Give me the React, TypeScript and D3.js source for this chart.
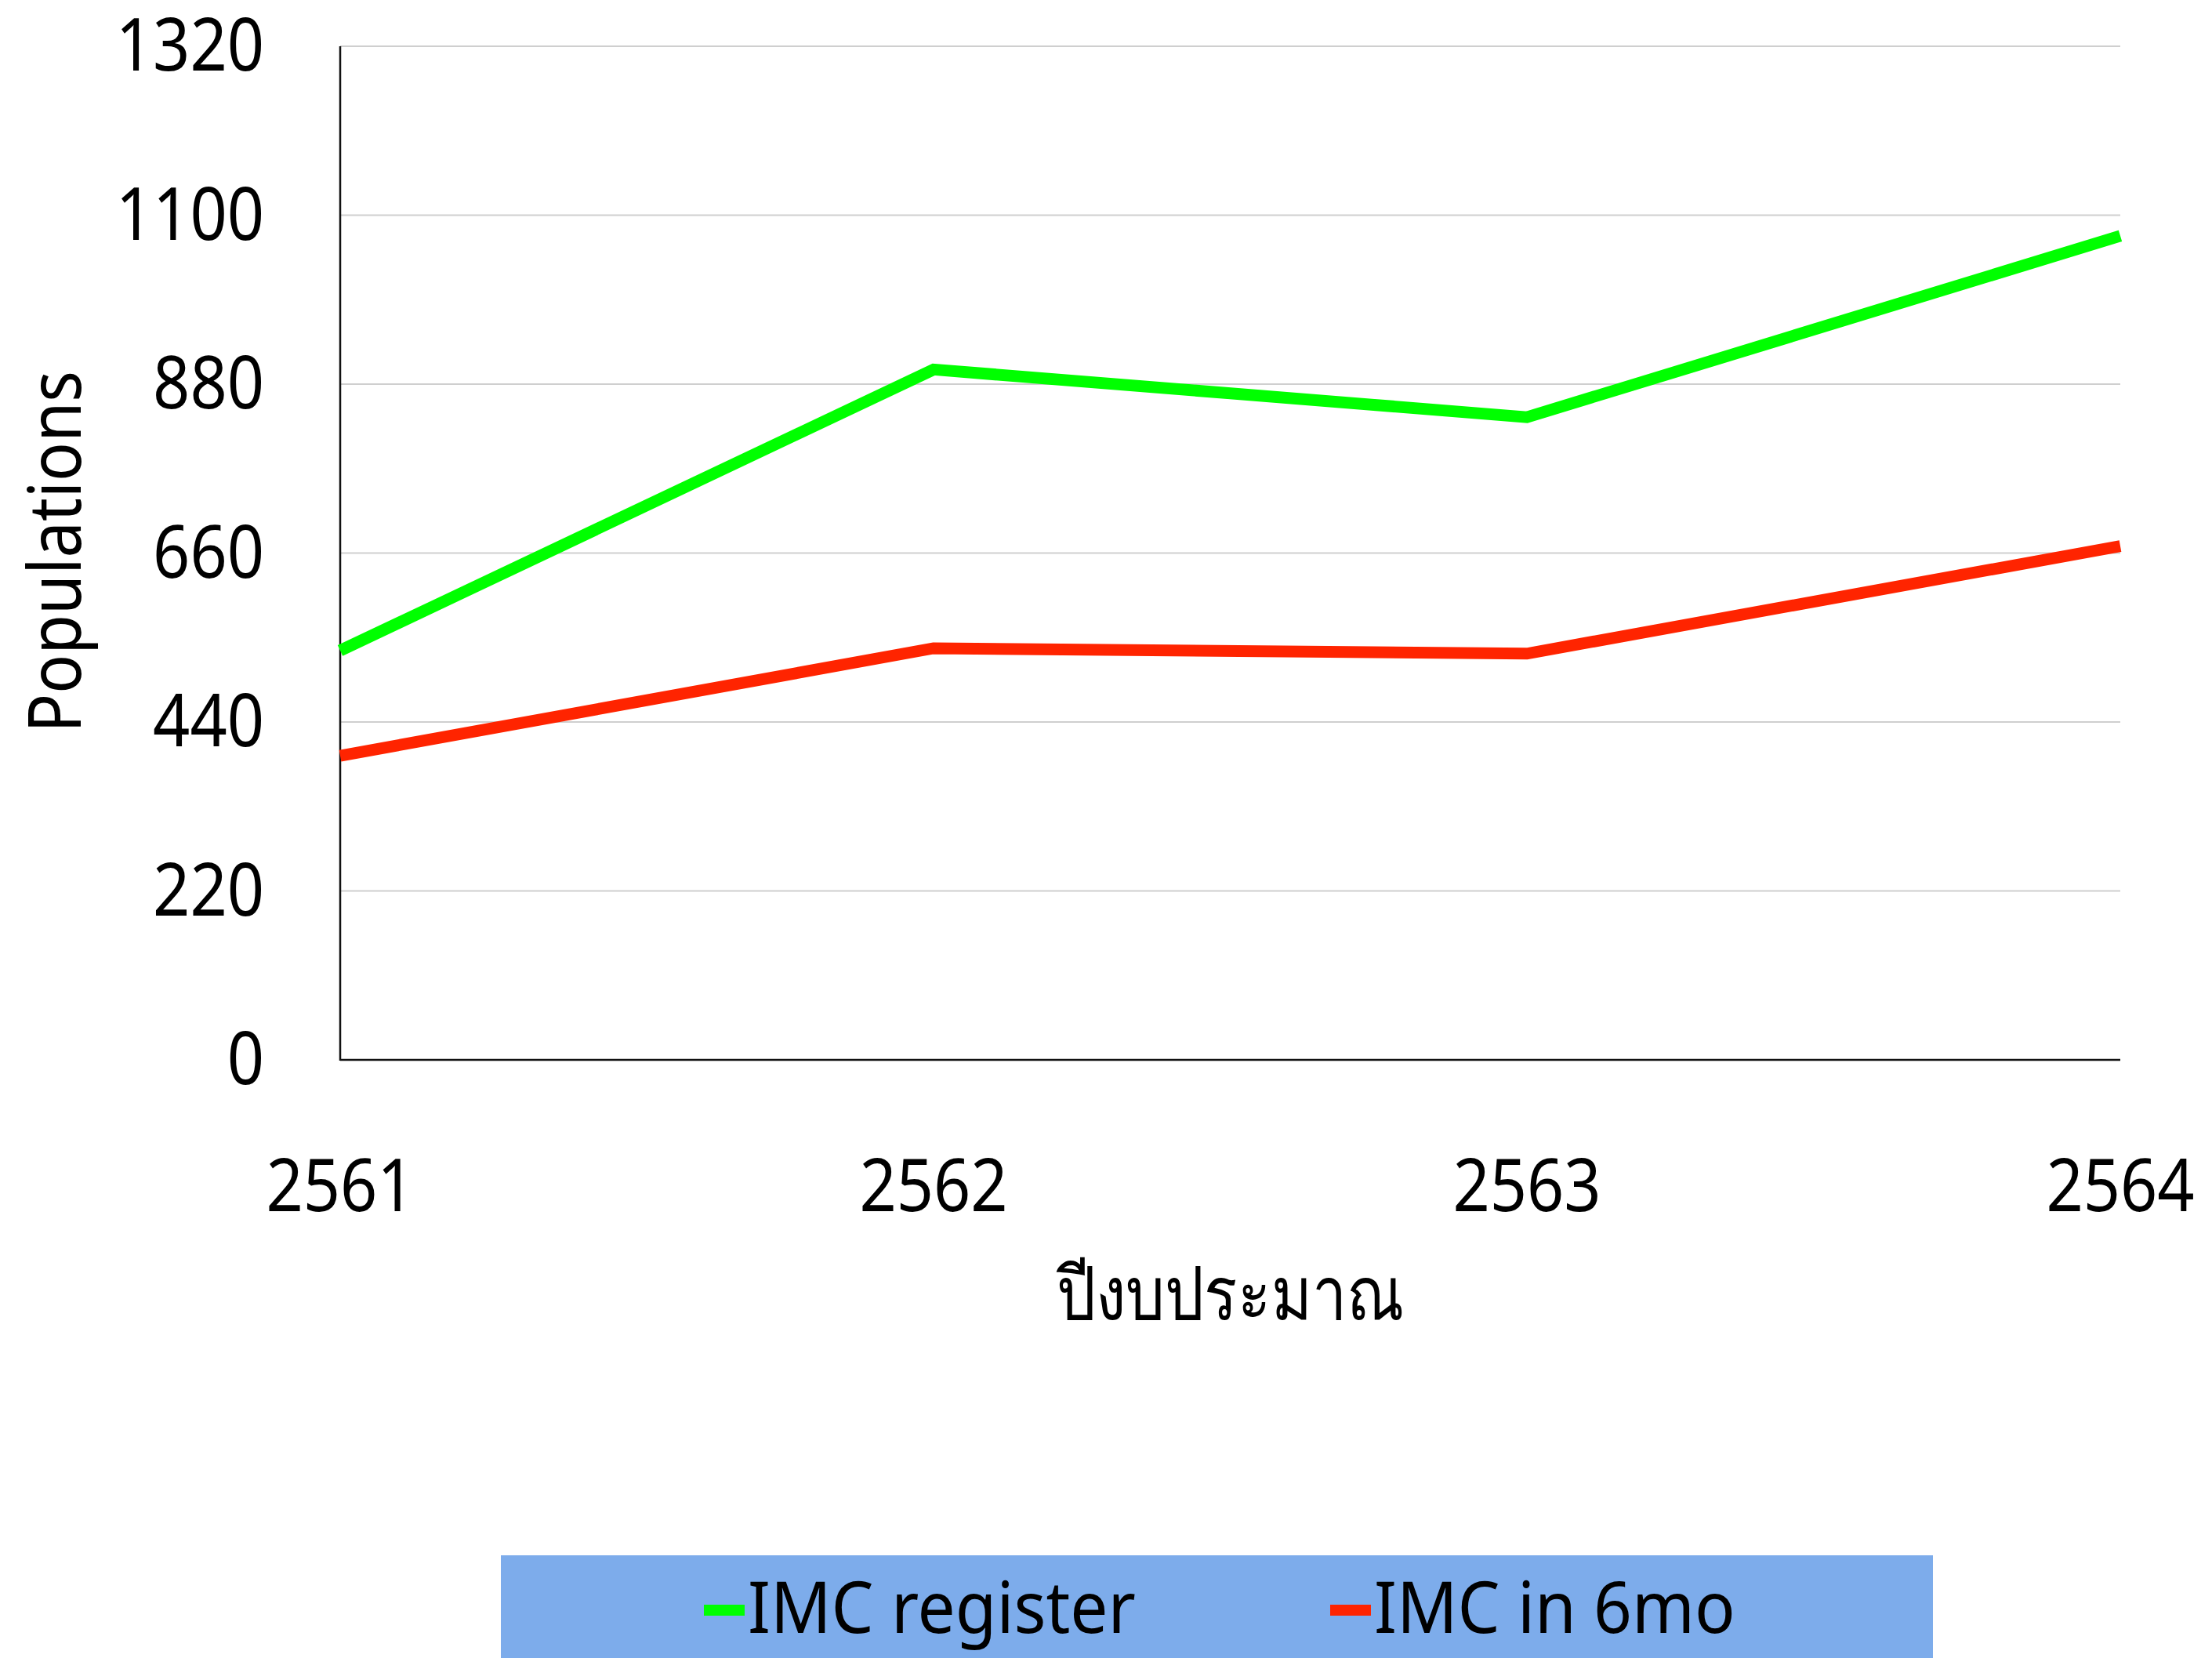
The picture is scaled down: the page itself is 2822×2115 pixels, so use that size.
import React from "react";
import * as d3 from "d3";

const years = ["2561", "2562", "2563", "2564"];
const imcRegister = [533, 899, 837, 1073];
const imcIn6mo = [396, 536, 529, 669];
const yTicks = [0, 220, 440, 660, 880, 1100, 1320];
const seriesNames = ["IMC register", "IMC in 6mo"];
const seriesColors = ["#00FF00", "#FF2400"];
const xTitle = "ปีงบประมาณ";
const yTitle = "Populations";

const W = 2822;
const H = 2115;
const FONT = "'Noto Sans', 'Open Sans', sans-serif";
const SX = 0.88;

export default function App() {
  const left = 434, right = 2705, top = 59, bottom = 1352;
  const x = d3.scalePoint<string>().domain(years).range([left, right]);
  const y = d3.scaleLinear().domain([0, 1320]).range([bottom, top]);
  const line = d3
    .line<number>()
    .x((_, i) => x(years[i]) as number)
    .y((d) => y(d));
  const series = [imcRegister, imcIn6mo];

  return (
    <svg
      width={W}
      height={H}
      style={{ position: "absolute", left: 0, top: 0, background: "#fff" }}
      fontFamily={FONT}
    >
      <rect x={0} y={0} width={W} height={H} fill="#fff" />
      {yTicks.filter((t) => t > 0).map((t) => (
        <line key={"g" + t} x1={left} x2={right} y1={y(t)} y2={y(t)} stroke="#CFCFCF" strokeWidth={2} />
      ))}
      {yTicks.map((t) => (
        <text
          key={"yt" + t}
          transform={`translate(${337},${y(t) + 31}) scale(${SX},1)`}
          textAnchor="end"
          fontSize={94}
          fill="#000"
        >
          {t}
        </text>
      ))}
      <line x1={left} x2={left} y1={top} y2={bottom + 1} stroke="#111" strokeWidth={2.5} />
      <line x1={left} x2={right} y1={bottom} y2={bottom} stroke="#111" strokeWidth={2.5} />
      {series.map((s, i) => (
        <path
          key={"s" + i}
          d={line(s) || ""}
          fill="none"
          stroke={seriesColors[i]}
          strokeWidth={15}
          strokeLinejoin="miter"
          strokeLinecap="butt"
        />
      ))}
      {years.map((yr) => (
        <text
          key={"xt" + yr}
          transform={`translate(${x(yr)},${1545}) scale(${SX},1)`}
          textAnchor="middle"
          fontSize={94}
          fill="#000"
        >
          {yr}
        </text>
      ))}
      <text
        transform={`translate(${1570},${1683}) scale(0.84,1)`}
        textAnchor="middle"
        fontSize={94}
        fill="#000"
      >
        {xTitle}
      </text>
      <text
        transform={`translate(${103},${704}) rotate(-90) scale(${SX},1)`}
        textAnchor="middle"
        fontSize={94}
        fill="#000"
      >
        {yTitle}
      </text>
      <rect x={639} y={1984} width={1827} height={H - 1984} fill="#7DACEB" />
      {seriesNames.map((n, i) => {
        const mx = i === 0 ? 898 : 1697;
        return (
          <g key={"lg" + i}>
            <rect x={mx} y={2047} width={52} height={14} fill={seriesColors[i]} />
            <text
              transform={`translate(${mx + 56},${2083}) scale(0.93,1)`}
              fontSize={92}
              fill="#000"
            >
              {n}
            </text>
          </g>
        );
      })}
    </svg>
  );
}
